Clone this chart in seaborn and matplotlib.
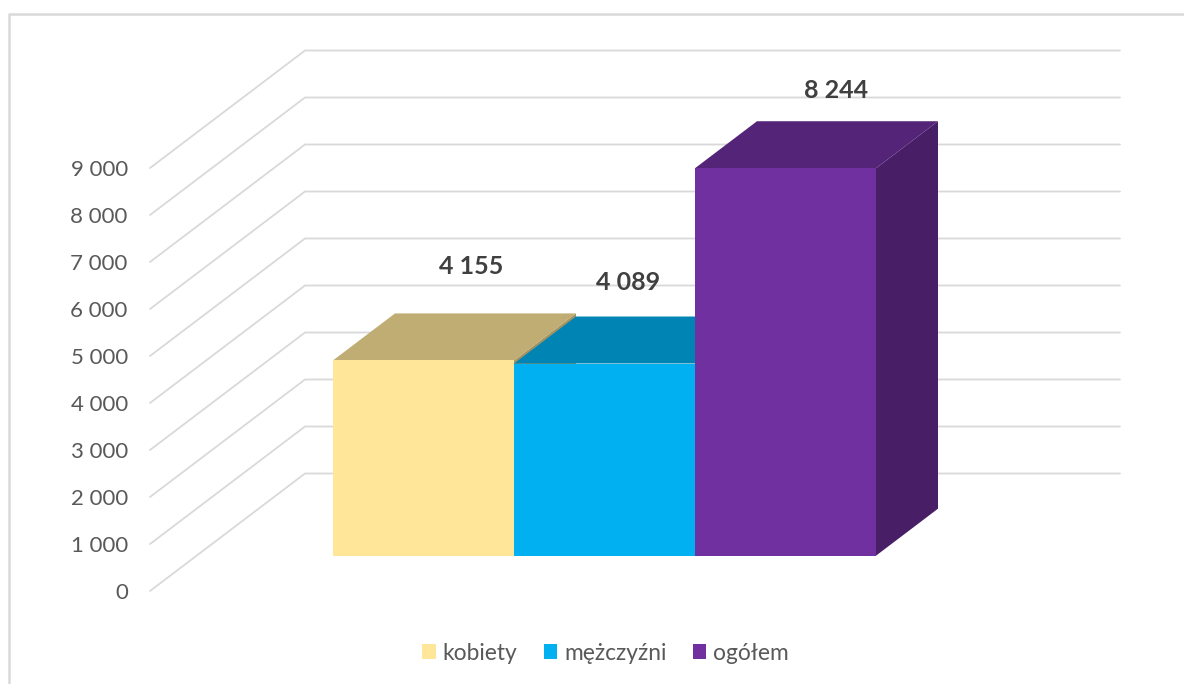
import matplotlib
matplotlib.use("Agg")
import matplotlib.pyplot as plt
from matplotlib.colors import to_rgb
from matplotlib.lines import Line2D
from matplotlib.patches import Polygon
import pandas as pd
import seaborn as sns

categories = ["kobiety", "mężczyźni", "ogółem"]
values = [4155, 4089, 8244]
colors = ["#FFE699", "#00B0F0", "#7030A0"]
ticks = [0, 1000, 2000, 3000, 4000, 5000, 6000, 7000, 8000, 9000]

W, H = 1184, 684
PX_PER_UNIT = 0.047  # 47 px for every 1000


def spaced(v):
    return f"{v:,}".replace(",", " ")


def darker(c, k):
    return tuple(x * k for x in to_rgb(c))


sns.set_theme(style="white")
plt.rcParams["font.family"] = ["Lato", "DejaVu Sans"]

fig = plt.figure(figsize=(W / 100, H / 100), dpi=100, facecolor="white")

# outer frame, only top and left are in the crop
fig.add_artist(Line2D([9 / W, 9 / W, 1], [0, 1 - 14 / H, 1 - 14 / H], color="#D9D9D9", lw=1.8))

# back wall + floor gridlines
wall = fig.add_axes([150 / W, 1 - 591 / H, 970 / W, 540.5 / H], facecolor="none")
wall.set_xlim(0, 970)
wall.set_ylim(0, 11500)
floor_dy = 2500  # how far the wall sits behind the axis labels
for t in ticks:
    wall.plot([0, 155, 970], [t, t + floor_dy, t + floor_dy], color="#D9D9D9", lw=1.3, clip_on=False)
wall.set_xticks([])
wall.set_yticks(ticks, [spaced(t) for t in ticks])
wall.tick_params(axis="y", length=0, pad=16, labelsize=16, labelcolor="#595959")
sns.despine(ax=wall, left=True, bottom=True)

# front faces of the bars
df = pd.DataFrame({"kategoria": categories, "liczba": values})
ax = fig.add_axes([333 / W, 1 - 555.7 / H, 543 / W, 9000 * PX_PER_UNIT / H], facecolor="none")
sns.barplot(data=df, x="kategoria", y="liczba", hue="kategoria", hue_order=categories,
            palette=colors, width=1, dodge=False, saturation=1, legend=True, ax=ax, zorder=3,
            linewidth=0, edgecolor="none")
ax.set_xlim(-0.5, 2.5)
ax.set_ylim(0, 9000)
handles, labels = ax.get_legend_handles_labels()
ax.get_legend().remove()
ax.axis("off")

# depth of the bars, drawn from what seaborn placed
# sides go under all the tops, only a sliver of the yellow one stays visible
depth_x = 62 / 181
depth_y = 1000
bars = [c[0] for c in ax.containers]
for i in [2, 1, 0]:
    b = bars[i]
    x0, x1 = b.get_x(), b.get_x() + b.get_width()
    top = b.get_height()
    ax.add_patch(Polygon([(x1, 0), (x1 + depth_x, depth_y), (x1 + depth_x, top + depth_y), (x1, top)],
                         color=darker(colors[i], 0.64), lw=0, zorder=1.5, clip_on=False))
    ax.add_patch(Polygon([(x0, top), (x0 + depth_x, top + depth_y), (x1 + depth_x, top + depth_y), (x1, top)],
                         color=darker(colors[i], 0.75), lw=0, zorder=2, clip_on=False))

# data labels were dragged by hand in the original, so each has its own offset
label_dx = [48, 24, 51]
label_dy = [94, 81, 78]
for b, v, dx, dy in zip(bars, values, label_dx, label_dy):
    ax.annotate(spaced(v), (b.get_x() + b.get_width() / 2, v), xytext=(dx * 0.72, dy * 0.72),
                textcoords="offset points", ha="center", va="center", fontsize=18,
                fontweight="bold", color="#404040", annotation_clip=False, zorder=4)

fig.legend(handles, labels, loc="center", bbox_to_anchor=(605.5 / W, 1 - 653 / H), ncol=3,
           frameon=False, fontsize=16.4, labelcolor="#595959", handlelength=0.6, handleheight=0.6,
           handletextpad=0.3, columnspacing=1.15, borderpad=0, borderaxespad=0)

fig.savefig("out.png", dpi=100)
